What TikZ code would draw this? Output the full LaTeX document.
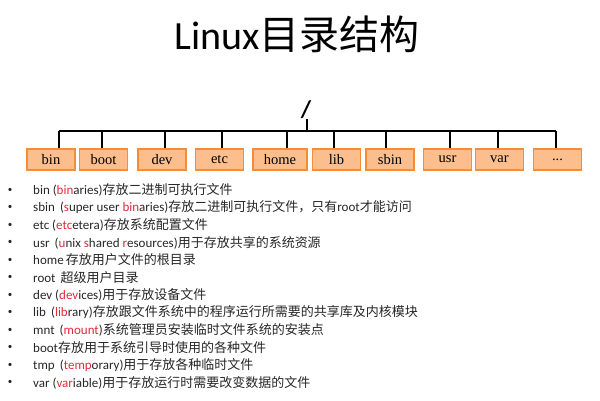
\documentclass[tikz,border=0pt]{standalone}
\usepackage{fontspec}
\setmainfont{Carlito}
\newfontfamily\zh{Noto Sans CJK SC}
\newfontfamily\tnr{Liberation Serif}
\usepackage{tikz}
\usetikzlibrary{positioning}
\definecolor{dirfill}{RGB}{251,190,140}
\definecolor{dirline}{RGB}{245,140,55}
\definecolor{abbr}{RGB}{225,40,60}
\newcommand{\rd}[1]{\textcolor{abbr}{#1}}
\tikzstyle{dir}=[draw=dirline, fill=dirfill, line width=1.2pt, minimum width=48pt,
    minimum height=21pt, inner sep=0pt, font=\tnr\fontsize{14.5}{14.5}\selectfont]
\tikzstyle{item}=[anchor=west, inner sep=0pt, text=black!85,
    font=\fontsize{13}{13}\selectfont]
\tikzstyle{dot}=[inner sep=0pt, text=black!85, font=\fontsize{9}{9}\selectfont]
\tikzstyle{tree}=[line width=2pt, black]

\begin{document}
\begin{tikzpicture}[x=1pt, y=-1pt]
  \useasboundingbox (0,0) rectangle (600,400);
  % title
  \node[inner sep=0pt] (title) at (297,34) {\fontsize{40}{40}\selectfont Linux{\zh 目录结构}};
  % root
  \node[inner sep=0pt, font=\fontsize{24}{24}\selectfont\bfseries] (root) at (306,110) {/};
  \coordinate (rootj) at (307,131);
  \draw[tree] (rootj |- root.south) -- (rootj);
  % directories
  \node[dir] (bin) at (51,159.5) {bin};
  \node[dir] (boot) at (103.5,159.5) {boot};
  \node[dir] (dev) at (162,159.5) {dev};
  \node[dir] (etc) at (219.5,159.5) {etc};
  \node[dir, minimum width=54pt] (home) at (280,159.5) {home};
  \node[dir] (lib) at (336.5,159.5) {lib};
  \node[dir] (sbin) at (390,159.5) {sbin};
  \node[dir] (usr) at (447.5,159.5) {usr};
  \node[dir] (var) at (499.5,159.5) {var};
  \node[dir] (more) at (557.5,159.5) {...};
  % junctions on the bus
  \coordinate (jbin) at (59,131);
  \coordinate (jboot) at (102,131);
  \coordinate (jdev) at (165,131);
  \coordinate (jetc) at (222,131);
  \coordinate (jhome) at (287,131);
  \coordinate (jlib) at (334,131);
  \coordinate (jsbin) at (386,131);
  \coordinate (jusr) at (450,131);
  \coordinate (jvar) at (498,131);
  \coordinate (jmore) at (556,131);
  \draw[tree] (jbin) -- (jmore);
  \draw[tree] (jbin) -- (jbin |- bin.north);
  \draw[tree] (jboot) -- (jboot |- boot.north);
  \draw[tree] (jdev) -- (jdev |- dev.north);
  \draw[tree] (jetc) -- (jetc |- etc.north);
  \draw[tree] (jhome) -- (jhome |- home.north);
  \draw[tree] (jlib) -- (jlib |- lib.north);
  \draw[tree] (jsbin) -- (jsbin |- sbin.north);
  \draw[tree] (jusr) -- (jusr |- usr.north);
  \draw[tree] (jvar) -- (jvar |- var.north);
  \draw[tree] (jmore) -- (jmore |- more.north);
  % list
  \node[item] (i1) at (33,190) {bin (\rd{bin}aries){\zh 存放二进制可执行文件}};
  \node[item] (i2) at (33,207.5) {sbin \,(\rd{s}uper user \rd{bin}aries){\zh 存放二进制可执行文件，只有}root{\zh 才能访问}};
  \node[item] (i3) at (33,225) {etc (\rd{etc}etera){\zh 存放系统配置文件}};
  \node[item] (i4) at (33,242.5) {usr \,(\rd{u}nix \rd{s}hared \rd{r}esources){\zh 用于存放共享的系统资源}};
  \node[item] (i5) at (33,260) {home\,{\zh 存放用户文件的根目录}};
  \node[item] (i6) at (33,277.5) {root \,{\zh 超级用户目录}};
  \node[item] (i7) at (33,295) {dev (\rd{dev}ices){\zh 用于存放设备文件}};
  \node[item] (i8) at (33,312.5) {lib \,(\rd{lib}rary){\zh 存放跟文件系统中的程序运行所需要的共享库及内核模块}};
  \node[item] (i9) at (33,330) {mnt \,(\rd{mount}){\zh 系统管理员安装临时文件系统的安装点}};
  \node[item] (i10) at (33,347.5) {boot{\zh 存放用于系统引导时使用的各种文件}};
  \node[item] (i11) at (33,365) {tmp \,(\rd{temp}orary){\zh 用于存放各种临时文件}};
  \node[item] (i12) at (33,382.5) {var (\rd{var}iable){\zh 用于存放运行时需要改变数据的文件}};
  % bullets
  \node[dot] (b1) at (10,190) {•};
  \node[dot] (b2) at (10,207.5) {•};
  \node[dot] (b3) at (10,225) {•};
  \node[dot] (b4) at (10,242.5) {•};
  \node[dot] (b5) at (10,260) {•};
  \node[dot] (b6) at (10,277.5) {•};
  \node[dot] (b7) at (10,295) {•};
  \node[dot] (b8) at (10,312.5) {•};
  \node[dot] (b9) at (10,330) {•};
  \node[dot] (b10) at (10,347.5) {•};
  \node[dot] (b11) at (10,365) {•};
  \node[dot] (b12) at (10,382.5) {•};
\end{tikzpicture}
\end{document}
